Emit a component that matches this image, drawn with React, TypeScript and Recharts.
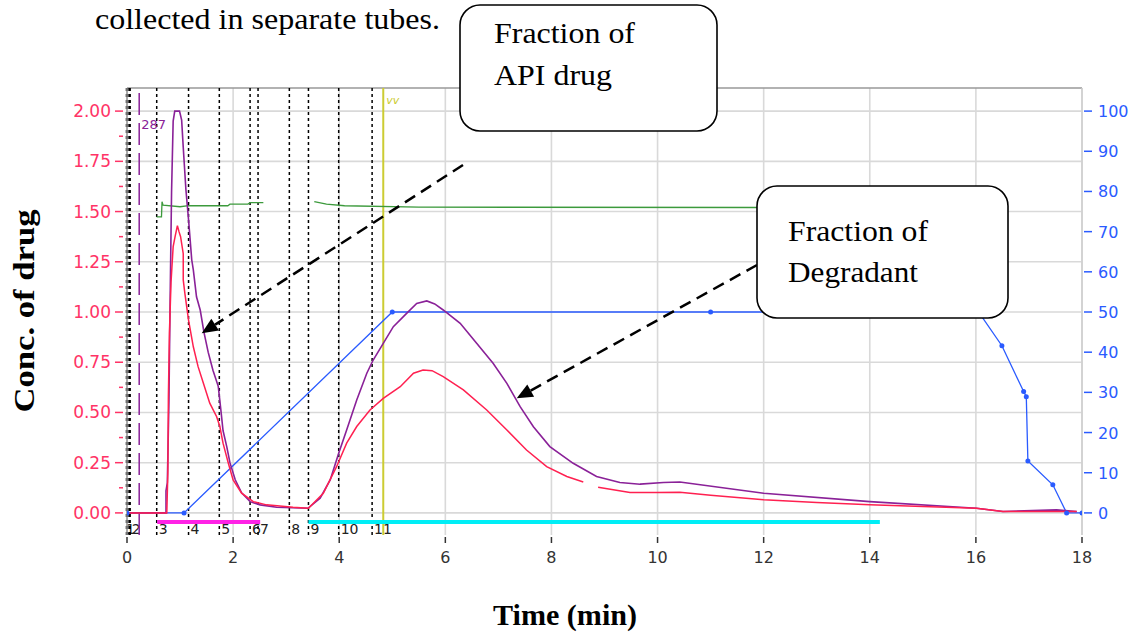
import React from 'react';
import { LineChart, Line, XAxis, YAxis, CartesianGrid, ReferenceLine } from 'recharts';

const W = 1136;
const H = 633;

// axis ticks
const timeTicks = [0, 2, 4, 6, 8, 10, 12, 14, 16, 18];
const concTicks = [0, 0.125, 0.25, 0.375, 0.5, 0.625, 0.75, 0.875, 1, 1.125, 1.25, 1.375, 1.5, 1.625, 1.75, 1.875, 2];
const concGrid = [0, 0.25, 0.5, 0.75, 1, 1.25, 1.5, 1.75, 2];
const percentTicks = [0, 10, 20, 30, 40, 50, 60, 70, 80, 90, 100];

// [time (min), conc.]
const redTrace: [number, number | null][] = [
  [0, 0], [0.75, 0], [0.77, 0.2], [0.78, 0.58], [0.8, 0.9], [0.83, 1.15], [0.87, 1.325], [0.91, 1.38],
  [0.95, 1.43], [0.98, 1.4], [1.01, 1.375], [1.06, 1.29], [1.06, 1.16], [1.09, 1.094], [1.16, 0.96],
  [1.25, 0.827], [1.34, 0.728], [1.44, 0.645], [1.56, 0.546], [1.69, 0.479], [1.75, 0.43], [1.81, 0.347],
  [1.91, 0.247], [2.0, 0.164], [2.16, 0.098], [2.38, 0.056], [2.63, 0.04], [3.13, 0.028], [3.42, 0.023],
  [3.7, 0.098], [3.95, 0.23], [4.14, 0.347], [4.33, 0.43], [4.58, 0.512], [4.83, 0.57], [5.15, 0.628],
  [5.4, 0.695], [5.58, 0.711], [5.75, 0.708], [5.96, 0.678], [6.34, 0.612], [6.78, 0.512], [7.16, 0.413],
  [7.53, 0.313], [7.91, 0.23], [8.29, 0.181], [8.6, 0.154], [8.75, null], [8.88, 0.128], [9.48, 0.101],
  [9.98, 0.101], [10.42, 0.103], [11.0, 0.088], [12.0, 0.065], [13.0, 0.052], [14.0, 0.04], [15.0, 0.032],
  [16.01, 0.023], [16.51, 0.007], [17.9, 0.007],
];

const purpleTrace: [number, number][] = [
  [0, 0], [0.735, 0], [0.735, 0.11], [0.76, 0.15], [0.79, 0.55], [0.81, 1.0], [0.84, 1.6], [0.87, 1.95],
  [0.9, 2.0], [0.99, 2.0], [1.03, 1.955], [1.06, 1.82], [1.11, 1.61], [1.16, 1.46], [1.22, 1.26],
  [1.25, 1.21], [1.31, 1.076], [1.38, 1.01], [1.45, 0.9], [1.53, 0.8], [1.62, 0.71], [1.72, 0.63],
  [1.77, 0.51], [1.81, 0.41], [1.88, 0.33], [1.94, 0.25], [2.04, 0.165], [2.16, 0.1], [2.32, 0.056],
  [2.51, 0.04], [2.82, 0.028], [3.41, 0.023], [3.64, 0.073], [3.83, 0.164], [3.99, 0.297], [4.14, 0.413],
  [4.33, 0.562], [4.52, 0.695], [4.64, 0.761], [4.83, 0.844], [5.02, 0.927], [5.27, 0.993], [5.46, 1.043],
  [5.65, 1.055], [5.8, 1.04], [5.96, 1.01], [6.28, 0.944], [6.59, 0.844], [6.9, 0.745], [7.16, 0.645],
  [7.41, 0.529], [7.66, 0.429], [7.97, 0.33], [8.41, 0.247], [8.85, 0.181], [9.29, 0.151], [9.67, 0.143],
  [10.11, 0.151], [10.42, 0.154], [12.0, 0.098], [14.0, 0.056], [16.01, 0.023], [16.51, 0.007],
  [17.52, 0.015], [17.9, 0.007],
];

const greenTrace: [number, number | null][] = [
  [0.56, 1.474], [0.65, 1.474], [0.66, 1.549], [0.68, 1.532], [1.0, 1.524], [1.16, 1.529], [1.9, 1.529],
  [1.94, 1.537], [2.28, 1.537], [2.32, 1.544], [2.57, 1.544], [3.0, null], [3.53, 1.549], [3.76, 1.537],
  [4.1, 1.529], [5.5, 1.522], [12.5, 1.52],
];

// solvent gradient, %B on right axis
const gradientSteps: [number, number][] = [
  [0, 0], [1.075, 0], [5.0, 50], [11.0, 50], [16.05, 50], [16.49, 41.6], [16.9, 30.2], [16.95, 28.9],
  [16.98, 12.9], [17.45, 7], [17.71, 0], [18, 0],
];

// fraction collector
const fractionTimes = [0, 0.05, 0.56, 1.16, 1.74, 2.32, 2.47, 3.06, 3.42, 3.99, 4.62];
const fractionNames = ['1', '2', '3', '4', '5', '6', '7', '8', '9', '10', '11'];
const apiWindow = [0.57, 2.51];
const degradantWindow = [3.42, 14.19];
const windowLevel = -0.045;

const wavelengthMark = 0.23;
const wavelengthName = '287';
const eventMark = 4.83;

const toPoints = (rows: [number, number | null][]) => rows.map(([t, v]) => ({ t, v }));

const RED = '#ff2050';
const PURPLE = '#8a2198';
const GREEN = '#3c9a3c';
const BLUE = '#2a5bff';
const AXIS_RED = '#ff3366';

const LeftTick = (props: any) => {
  const { x, y, payload } = props;
  const v = payload.value;
  const major = Math.abs(v * 4 - Math.round(v * 4)) < 1e-6;
  return (
    <g>
      <line x1={x - (major ? 12 : 8)} x2={x - 4} y1={y} y2={y} stroke={AXIS_RED} strokeWidth={1.5} />
      {major && (
        <text x={x - 16} y={y} dy={6} textAnchor="end" fill={AXIS_RED} fontSize={17} fontFamily="DejaVu Sans">
          {v.toFixed(2)}
        </text>
      )}
    </g>
  );
};

const RightTick = (props: any) => {
  const { x, y, payload } = props;
  return (
    <g>
      <line x1={x + 2} x2={x + 10} y1={y} y2={y} stroke={BLUE} strokeWidth={1.5} />
      <text x={x + 16} y={y} dy={6} fill={BLUE} fontSize={16} fontFamily="DejaVu Sans">
        {payload.value}
      </text>
    </g>
  );
};

const TimeTick = (props: any) => {
  const { x, y, payload } = props;
  return (
    <g>
      <line x1={x} x2={x} y1={y + 2} y2={y + 8} stroke="#333" strokeWidth={1.5} />
      <text x={x} y={y + 28} textAnchor="middle" fill="#333" fontSize={16} fontFamily="DejaVu Sans">
        {payload.value}
      </text>
    </g>
  );
};

// fraction numbers sit just right of each marker, at the bottom of the plot
const fracLabel = (name: string, shift: number) => (props: any) => {
  const vb = props.viewBox || {};
  return (
    <text x={vb.x + 2 + shift} y={vb.y + vb.height - 1} fontSize={14} fontFamily="DejaVu Sans" fill="#222">
      {name}
    </text>
  );
};

const Arrow = ({ x1, y1, x2, y2 }: { x1: number; y1: number; x2: number; y2: number }) => {
  const len = Math.hypot(x2 - x1, y2 - y1);
  const ux = (x2 - x1) / len;
  const uy = (y2 - y1) / len;
  const head = 16;
  const half = 7;
  const bx = x2 - ux * head;
  const by = y2 - uy * head;
  return (
    <g>
      <line x1={x1} y1={y1} x2={bx} y2={by} stroke="#000" strokeWidth={2.5} strokeDasharray="12 7" />
      <polygon
        points={`${x2},${y2} ${bx - uy * half},${by + ux * half} ${bx + uy * half},${by - ux * half}`}
        fill="#000"
      />
    </g>
  );
};

const serif = '"Liberation Serif", "Times New Roman", serif';

export default function App() {
  return (
    <div style={{ position: 'absolute', left: 0, top: 0, width: W, height: H, background: '#fff' }}>
      <LineChart width={W} height={H} margin={{ top: 88, right: 0, bottom: 68, left: 0 }}>
        <CartesianGrid
          stroke="#d9d9d9"
          strokeWidth={1.6}
          horizontalValues={concGrid}
          verticalValues={timeTicks}
        />
        <XAxis
          type="number"
          dataKey="t"
          domain={[0, 18]}
          ticks={timeTicks}
          allowDataOverflow
          axisLine={false}
          tickLine={false}
          tickSize={0}
          tickMargin={0}
          interval={0}
          height={30}
          tick={<TimeTick />}
        />
        <YAxis
          domain={[-0.11, 2.115]}
          ticks={concTicks}
          allowDataOverflow
          width={127}
          interval={0}
          axisLine={{ stroke: '#999', strokeWidth: 1.5 }}
          tickLine={false}
          tickSize={0}
          tickMargin={0}
          tick={<LeftTick />}
        />
        <YAxis
          yAxisId="right"
          orientation="right"
          domain={[-5.5, 105.75]}
          ticks={percentTicks}
          allowDataOverflow
          width={54}
          interval={0}
          axisLine={{ stroke: '#cfcfcf', strokeWidth: 1.5 }}
          tickLine={false}
          tickSize={0}
          tickMargin={0}
          tick={<RightTick />}
        />
        <ReferenceLine y={2.115} stroke="#999" strokeWidth={1.5} />

        {fractionTimes.map((ft, i) => (
          <ReferenceLine
            key={`frac-${i}`}
            x={ft}
            stroke="#000"
            strokeWidth={i < 2 ? 2.5 : 1.5}
            strokeDasharray="3 3"
            label={fracLabel(fractionNames[i], i === 0 ? -3 : 0)}
          />
        ))}
        <ReferenceLine
          x={wavelengthMark}
          stroke={PURPLE}
          strokeWidth={1.5}
          strokeDasharray="22 8"
          label={(props: any) => (
            <text x={props.viewBox.x + 2} y={props.viewBox.y + 41} fontSize={13} fontFamily="DejaVu Sans" fill={PURPLE}>
              {wavelengthName}
            </text>
          )}
        />
        <ReferenceLine
          x={eventMark}
          stroke="#cccc33"
          strokeWidth={2}
          label={(props: any) => (
            <text x={props.viewBox.x + 3} y={props.viewBox.y + 16} fontSize={11} fontStyle="italic" fontFamily="DejaVu Sans" fill="#cccc33">
              vv
            </text>
          )}
        />

        <Line
          data={toPoints([[apiWindow[0], windowLevel], [apiWindow[1], windowLevel]])}
          dataKey="v"
          stroke="#ff22e6"
          strokeWidth={4}
          dot={false}
          activeDot={false}
          isAnimationActive={false}
        />
        <Line
          data={toPoints([[degradantWindow[0], windowLevel], [degradantWindow[1], windowLevel]])}
          dataKey="v"
          stroke="#00eef6"
          strokeWidth={4}
          dot={false}
          activeDot={false}
          isAnimationActive={false}
        />
        <Line
          data={toPoints(greenTrace)}
          dataKey="v"
          stroke={GREEN}
          strokeWidth={1.3}
          dot={false}
          activeDot={false}
          isAnimationActive={false}
        />
        <Line
          data={toPoints(gradientSteps)}
          dataKey="v"
          yAxisId="right"
          stroke={BLUE}
          strokeWidth={1.3}
          dot={{ r: 2.5, fill: BLUE, stroke: BLUE, strokeWidth: 0 }}
          activeDot={false}
          isAnimationActive={false}
        />
        <Line
          data={toPoints(purpleTrace)}
          dataKey="v"
          stroke={PURPLE}
          strokeWidth={1.6}
          dot={false}
          activeDot={false}
          isAnimationActive={false}
        />
        <Line
          data={toPoints(redTrace)}
          dataKey="v"
          stroke={RED}
          strokeWidth={1.5}
          dot={false}
          activeDot={false}
          isAnimationActive={false}
        />
      </LineChart>

      <svg width={W} height={H} style={{ position: 'absolute', left: 0, top: 0, pointerEvents: 'none' }}>
        <text x={95} y={29} fontFamily={serif} fontSize={30} textLength={345} lengthAdjust="spacingAndGlyphs">
          collected in separate tubes.
        </text>

        <Arrow x1={463} y1={165} x2={201.7} y2={333.3} />
        <Arrow x1={757} y1={265} x2={516.7} y2={398.3} />

        <rect x={460} y={5} width={257} height={126} rx={20} fill="#fff" stroke="#000" strokeWidth={1.6} />
        <text x={494} y={43} fontFamily={serif} fontSize={30} textLength={141} lengthAdjust="spacingAndGlyphs">
          Fraction of
        </text>
        <text x={494} y={85} fontFamily={serif} fontSize={30} textLength={118} lengthAdjust="spacingAndGlyphs">
          API drug
        </text>

        <rect x={757} y={186} width={251} height={132} rx={20} fill="#fff" stroke="#000" strokeWidth={1.6} />
        <text x={788} y={241} fontFamily={serif} fontSize={30} textLength={140} lengthAdjust="spacingAndGlyphs">
          Fraction of
        </text>
        <text x={788} y={282} fontFamily={serif} fontSize={30} textLength={130} lengthAdjust="spacingAndGlyphs">
          Degradant
        </text>

        <text
          transform="translate(34, 311) rotate(-90)"
          textAnchor="middle"
          fontFamily={serif}
          fontWeight="bold"
          fontSize={30}
          textLength={203}
          lengthAdjust="spacingAndGlyphs"
        >
          Conc. of drug
        </text>
        <text
          x={565}
          y={625}
          textAnchor="middle"
          fontFamily={serif}
          fontWeight="bold"
          fontSize={30}
          textLength={144}
          lengthAdjust="spacingAndGlyphs"
        >
          Time (min)
        </text>
      </svg>
    </div>
  );
}
